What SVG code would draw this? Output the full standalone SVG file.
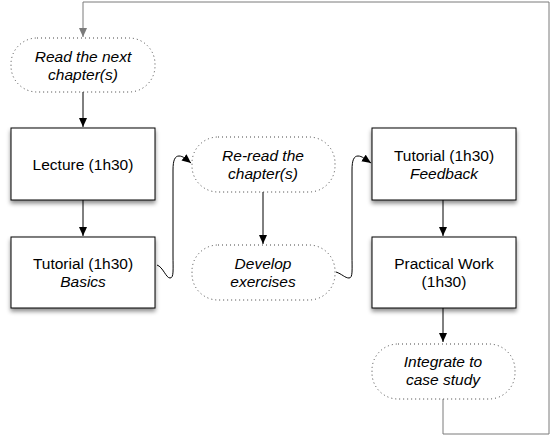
<svg xmlns="http://www.w3.org/2000/svg" width="553" height="436" viewBox="0 0 553 436">
<style>
.box{fill:#fff;stroke:#000;stroke-width:1;filter:url(#sh)}
.pill{fill:#fff;stroke:#444;stroke-width:1;stroke-dasharray:1 3}
text{font-family:"Liberation Sans",Arial,sans-serif;font-size:15.5px;fill:#000;text-anchor:middle}
.it{font-style:italic}
.c{fill:none;stroke:#000;stroke-width:1}
.g{fill:none;stroke:#7a7a7a;stroke-width:1}
</style>
<defs>
<filter id="sh" x="-10%" y="-10%" width="120%" height="130%">
<feDropShadow dx="0" dy="3" stdDeviation="2" flood-color="#000" flood-opacity="0.45"/>
</filter>
<marker id="a" markerWidth="10" markerHeight="10" refX="9" refY="4" orient="auto" markerUnits="userSpaceOnUse">
<path d="M0,0 L9,4 L0,8 Z" fill="#000"/>
</marker>
<marker id="ag" markerWidth="10" markerHeight="10" refX="9" refY="4" orient="auto" markerUnits="userSpaceOnUse">
<path d="M0,0 L9,4 L0,8 Z" fill="#7a7a7a"/>
</marker>
</defs>
<rect width="553" height="436" fill="#fff"/>
<g id="connectors">
<path class="g" d="M443,399 V434 H549 V2 H83 V37" marker-end="url(#ag)"/>
<path class="c" d="M83,92 V127" marker-end="url(#a)"/>
<path class="c" d="M83,200 V236" marker-end="url(#a)"/>
<path class="c" d="M263,192 V244" marker-end="url(#a)"/>
<path class="c" d="M443,200 V236" marker-end="url(#a)"/>
<path class="c" d="M443,308 V342" marker-end="url(#a)"/>
<path class="c" d="M157,265 C163,267 166,278 170,278 C174,278 173,270 173,255 L173,170 C173,160 175,156 179,156 C183,156 186,159 191,163" marker-end="url(#a)"/>
<path class="c" d="M336,272 C342,274 345,278 349,278 C353,278 352,270 352,255 L352,170 C352,160 354,156 358,156 C362,156 365,159 371,163" marker-end="url(#a)"/>
</g>
<g id="read">
<rect class="pill" x="11" y="38" width="144" height="54" rx="26"/>
<text class="it" x="83" y="61.5">Read the next</text>
<text class="it" x="83" y="79.5">chapter(s)</text>
</g>
<g id="lecture">
<rect class="box" x="11" y="128" width="144" height="72"/>
<text x="83" y="169.5">Lecture (1h30)</text>
</g>
<g id="basics">
<rect class="box" x="11" y="237" width="144" height="71"/>
<text x="83" y="269">Tutorial (1h30)</text>
<text class="it" x="83" y="287">Basics</text>
</g>
<g id="reread">
<rect class="pill" x="192" y="137" width="143" height="55" rx="26"/>
<text class="it" x="263" y="161">Re-read the</text>
<text class="it" x="263" y="179">chapter(s)</text>
</g>
<g id="develop">
<rect class="pill" x="192" y="245" width="143" height="55" rx="26"/>
<text class="it" x="263" y="269">Develop</text>
<text class="it" x="263" y="287">exercises</text>
</g>
<g id="feedback">
<rect class="box" x="372" y="128" width="144" height="72"/>
<text x="444" y="160.5">Tutorial (1h30)</text>
<text class="it" x="444" y="178.5">Feedback</text>
</g>
<g id="practical">
<rect class="box" x="372" y="237" width="144" height="71"/>
<text x="444" y="269">Practical Work</text>
<text x="444" y="287">(1h30)</text>
</g>
<g id="integrate">
<rect class="pill" x="372" y="344" width="143" height="55" rx="26"/>
<text class="it" x="443" y="367">Integrate to</text>
<text class="it" x="443" y="385">case study</text>
</g>
</svg>
